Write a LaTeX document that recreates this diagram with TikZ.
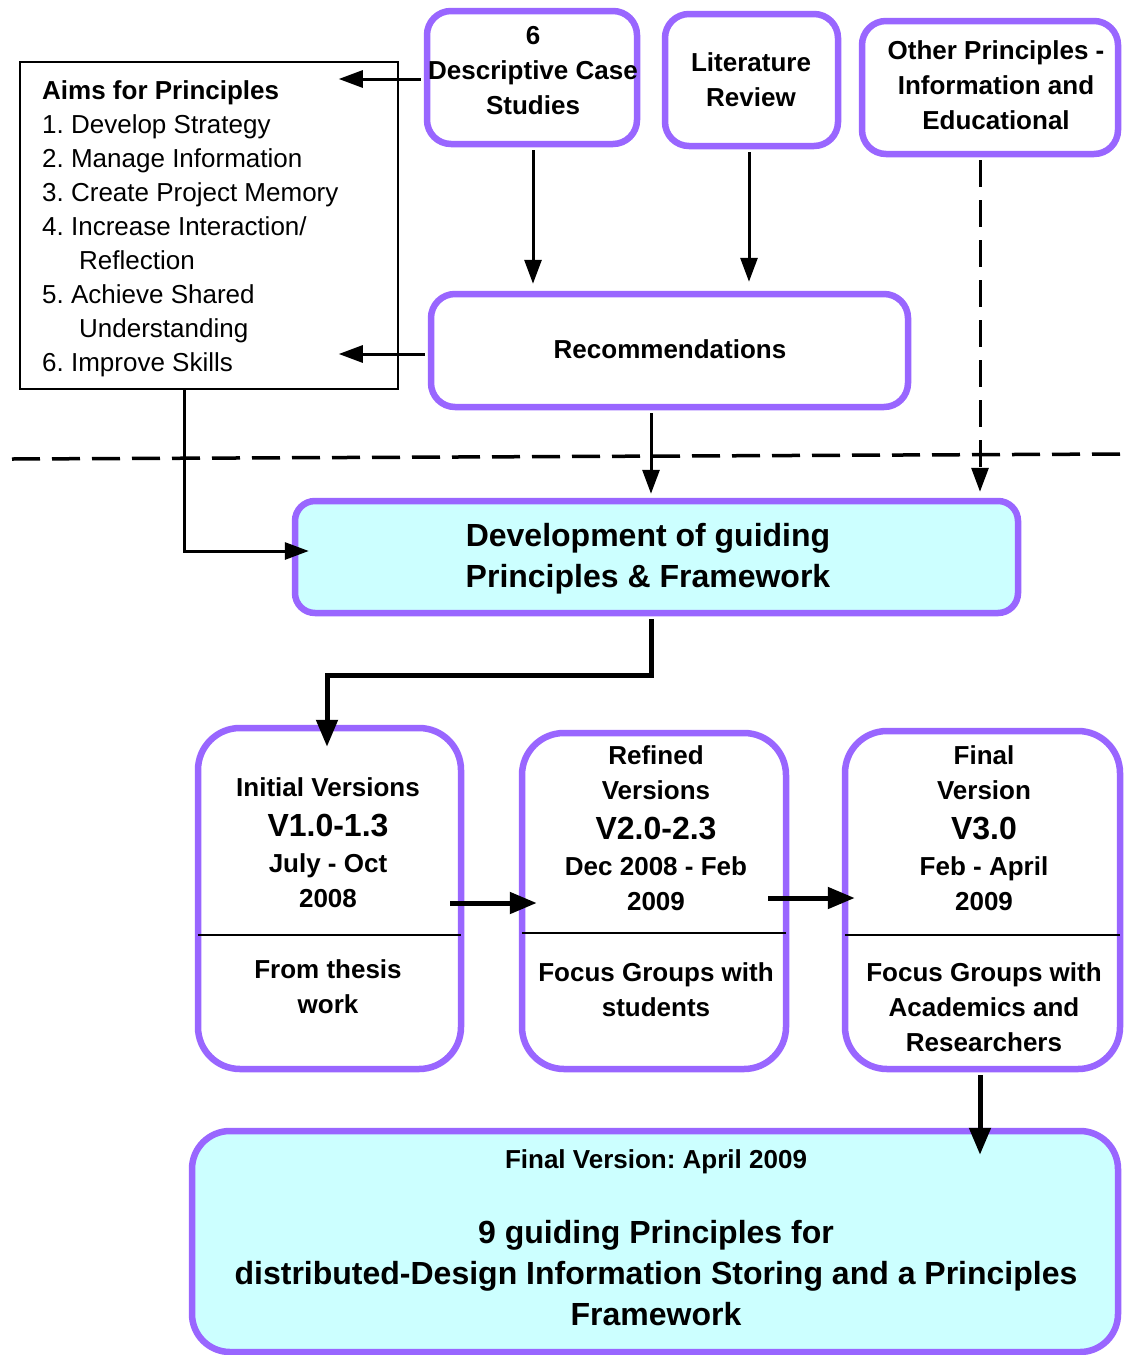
\documentclass[tikz,border=0pt]{standalone}
\usepackage{fontspec}
\setmainfont{Liberation Sans}
\usetikzlibrary{arrows.meta,calc}
\definecolor{pv}{RGB}{153,102,255}
\definecolor{cy}{RGB}{204,255,255}
\frenchspacing
\begin{document}
\frenchspacing
\begin{tikzpicture}[x=1pt,y=-1pt,
  pbox/.style={draw=pv,line width=6.5pt,rounded corners=24pt,fill=white,inner sep=0pt},
  cbox/.style={pbox,fill=cy},
  btxt/.style={inner sep=0pt,align=center,font=\bfseries\fontsize{26}{35}\selectfont},
  bigtxt/.style={inner sep=0pt,align=center,font=\bfseries\fontsize{32}{41}\selectfont},
  ln/.style={inner sep=0pt,anchor=base,font=\bfseries\fontsize{26}{31}\selectfont},
  lnv/.style={inner sep=0pt,anchor=base,font=\bfseries\fontsize{32}{38}\selectfont},
  arr/.style={-{Triangle[length=24pt,width=17pt]},line width=3pt},
  tarr/.style={-{Triangle[length=27pt,width=21pt]},line width=5pt},
  dashln/.style={line width=3.5pt,dash pattern=on 28pt off 12pt},
  dashv/.style={dash pattern=on 27pt off 13pt},
]
\useasboundingbox (0,0) rectangle (1124,1355);
\fill[white] (0,0) rectangle (1124,1355);

% dashed separator
\coordinate (dl) at (12,459);
\coordinate (dr) at (1124,454);
\draw[dashln] (dl) -- (dr);

% aims box
\node[draw,line width=1.8pt,minimum width=378,minimum height=327,inner sep=0pt] (aims) at (209,225.5) {};
\node[anchor=west,inner sep=0pt,align=left,font=\fontsize{26}{34.1}\selectfont] (aimst) at (42,228.8)
  {\textbf{Aims for Principles}\\1. Develop Strategy\\2. Manage Information\\3. Create Project Memory\\4. Increase Interaction/\\\hspace*{37pt}Reflection\\5. Achieve Shared\\\hspace*{37pt}Understanding\\6. Improve Skills};

% top boxes
\node[pbox,minimum width=210,minimum height=133] (cs) at (532,77.5) {};
\node[btxt] (cst) at (533,71) {6\\Descriptive Case\\Studies};
\node[pbox,minimum width=173,minimum height=132] (lit) at (751.5,80) {};
\node[btxt] (litt) at (751,79.5) {Literature\\Review};
\node[pbox,minimum width=256,minimum height=133] (oth) at (990,87.5) {};
\node[btxt] (otht) at (996,85.5) {Other Principles -\\Information and\\Educational};
\node[pbox,minimum width=477,minimum height=113] (rec) at (669.5,350.5) {};
\node[btxt] (rect) at (670,349) {Recommendations};

% development box
\node[cbox,rounded corners=20pt,minimum width=723,minimum height=112] (dev) at (656.5,557) {};
\node[bigtxt] (devt) at (648,558.7) {Development of guiding\\Principles \& Framework};

% version boxes
\node[pbox,rounded corners=42pt,minimum width=263,minimum height=341] (v1) at (329.5,898.5) {};
\node[pbox,rounded corners=42pt,minimum width=264,minimum height=336] (v2) at (654,901) {};
\node[pbox,rounded corners=42pt,minimum width=275,minimum height=338] (v3) at (982.5,900) {};
\draw[line width=2pt] ($(v1.west)+(3.2,36.5)$) -- ($(v1.east)+(-3.2,36.5)$);
\draw[line width=2pt] ($(v2.west)+(3.2,32)$) -- ($(v2.east)+(-3.2,32)$);
\draw[line width=2pt] ($(v3.west)+(3.2,35)$) -- ($(v3.east)+(-3.2,35)$);

\node[ln] (v1a) at (328,796) {Initial Versions};
\node[lnv] (v1b) at (328,836.5) {V1.0-1.3};
\node[ln] (v1c) at (328,872) {July - Oct};
\node[ln] (v1d) at (328,907) {2008};
\node[ln] (v1e) at (328,978) {From thesis};
\node[ln] (v1f) at (328,1013) {work};

\node[ln] (v2a) at (656,764) {Refined};
\node[ln] (v2b) at (656,799) {Versions};
\node[lnv] (v2c) at (656,839.5) {V2.0-2.3};
\node[ln] (v2d) at (656,875) {Dec 2008 - Feb};
\node[ln] (v2e) at (656,910) {2009};
\node[ln] (v2f) at (656,981) {Focus Groups with};
\node[ln] (v2g) at (656,1016) {students};

\node[ln] (v3a) at (984,764) {Final};
\node[ln] (v3b) at (984,799) {Version};
\node[lnv] (v3c) at (984,839.5) {V3.0};
\node[ln] (v3d) at (984,875) {Feb - April};
\node[ln] (v3e) at (984,910) {2009};
\node[ln] (v3f) at (984,981) {Focus Groups with};
\node[ln] (v3g) at (984,1016) {Academics and};
\node[ln] (v3h) at (984,1051) {Researchers};

% final box
\node[cbox,rounded corners=38pt,minimum width=926,minimum height=221] (fin) at (655,1241.5) {};
\node[ln] (fa) at (656,1168) {Final Version: April 2009};
\node[lnv] (fb) at (656,1243.5) {9 guiding Principles for};
\node[lnv] (fc) at (656,1284.5) {distributed-Design Information Storing and a Principles};
\node[lnv] (fd) at (656,1325.5) {Framework};

% connectors
\draw[arr,shorten <=3pt] ($(cs.west)+(0,1.5)$) -- ++(-85,0);
\draw[arr,shorten <=3pt] ($(rec.west)+(0,3.5)$) -- ++(-89,0);
\draw[arr,shorten <=3pt,shorten >=7pt] ($(cs.south)+(1,0)$) -- ($(cs.south |- rec.north)+(1,0)$);
\draw[arr,shorten <=3pt,shorten >=9pt] ($(lit.south)+(-2.5,0)$) -- ($(lit.south |- rec.north)+(-2.5,0)$);
\draw[arr,dashv,shorten <=3pt,shorten >=6pt] ($(oth.south)+(-10,0)$) -- ($(oth.south |- dev.north)+(-10,0)$);
\draw[arr,shorten <=3pt,shorten >=4pt] ($(rec.south)+(-18.5,0)$) -- ($(rec.south |- dev.north)+(-18.5,0)$);
\draw[arr,line width=3pt] ($(aims.south)+(-25,0)$) |- ($(dev.west)+(17,-6)$);
\draw[tarr,shorten <=3pt] ($(dev.south)+(-5.5,0)$) -- ++(0,59) -| ($(v1.north)+(-2.5,22)$);
\draw[tarr] ($(v1.east)+(-14,4.5)$) -- ($(v2.west)+(18,2)$);
\draw[tarr] ($(v2.east)+(-21,-3)$) -- ($(v3.west)+(13,-2)$);
\draw[tarr,shorten <=3pt] ($(v3.south)+(-2.5,0)$) -- ($(v3.south |- fin.north)+(-2.5,27)$);
\end{tikzpicture}
\end{document}
